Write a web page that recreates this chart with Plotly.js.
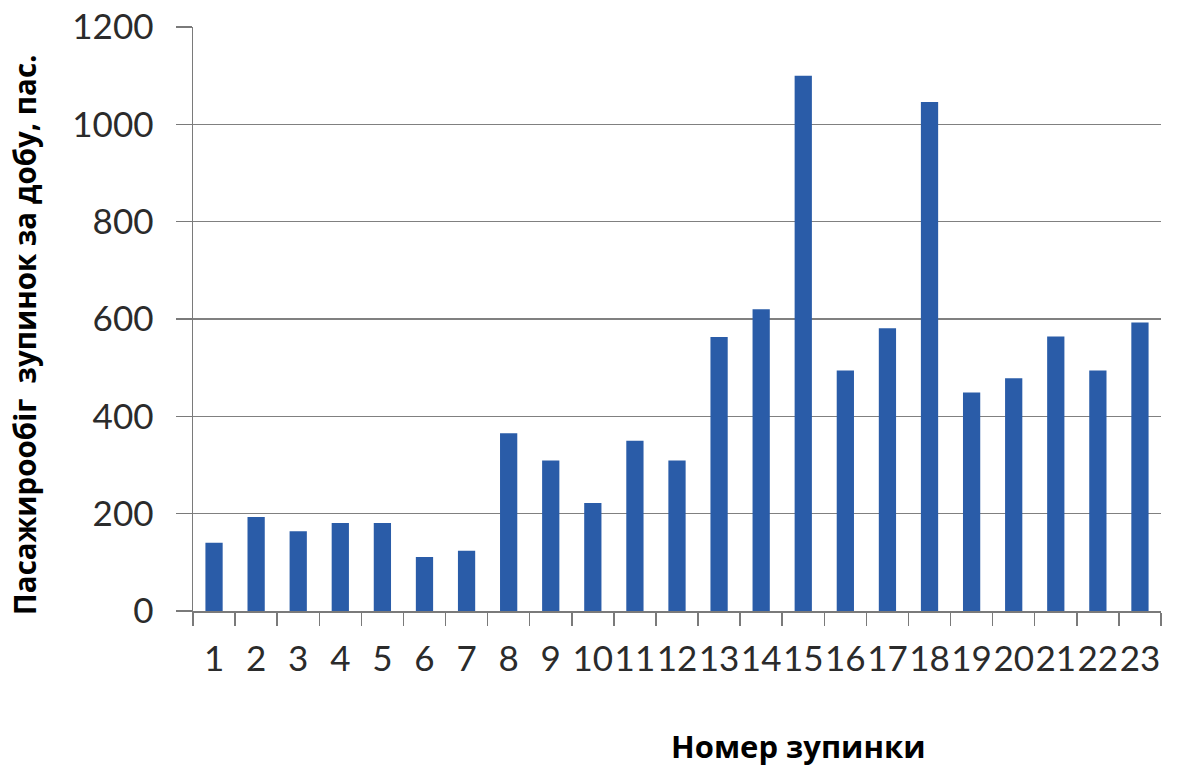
<!DOCTYPE html>
<html>
<head>
<meta charset="utf-8">
<script src="https://cdn.plot.ly/plotly-3.0.1.min.js"></script>
<style>
  html, body { margin: 0; padding: 0; background: #ffffff; }
  #chart { width: 1181px; height: 767px; }
</style>
</head>
<body>
<div id="chart"></div>
<script>
// Stop numbers along the route
const stops = ['1','2','3','4','5','6','7','8','9','10','11','12','13','14','15','16','17','18','19','20','21','22','23'];
// Daily passenger turnover at each stop, passengers
const passengers = [140, 193, 164, 181, 181, 111, 124, 365, 309, 222, 350, 309, 563, 620, 1100, 494, 581, 1046, 449, 478, 564, 494, 593];
// Value axis tick marks
const yTicks = [0, 200, 400, 600, 800, 1000, 1200];

const xTitle = 'Номер зупинки';
const yTitle = 'Пасажирообіг  зупинок за добу, пас.';

const labelFont = { family: 'Lato, "Open Sans", sans-serif', size: 35, color: '#2b2b2b' };
const xTitleFont = { family: '"Open Sans", Lato, sans-serif', size: 31, color: '#000000', weight: 'bold' };
const yTitleFont = { family: '"Open Sans", Lato, sans-serif', size: 29.5, color: '#000000', weight: 'bold' };

const trace = {
  type: 'bar',
  x: stops,
  y: passengers,
  marker: { color: '#2A5CA8', line: { width: 0 } },
  hoverinfo: 'x+y'
};

const layout = {
  width: 1181,
  height: 767,
  margin: { l: 193, r: 20, t: 27, b: 156 },
  paper_bgcolor: '#ffffff',
  plot_bgcolor: '#ffffff',
  showlegend: false,
  bargap: 0.59,
  font: labelFont,
  xaxis: {
    type: 'category',
    tickangle: 0,
    tickson: 'boundaries',
    ticks: 'outside',
    ticklen: 13,
    tickwidth: 1.5,
    tickcolor: '#7a7a7a',
    showline: true,
    linecolor: '#7a7a7a',
    linewidth: 1.5,
    showgrid: false,
    zeroline: false,
    ticklabelstandoff: 16,
    tickfont: labelFont,
    automargin: false
  },
  yaxis: {
    range: [0, 1200],
    tickvals: yTicks,
    ticktext: yTicks.map(String),
    ticks: 'outside',
    ticklen: 16,
    tickwidth: 1.5,
    tickcolor: '#7a7a7a',
    showline: true,
    linecolor: '#7a7a7a',
    linewidth: 1.5,
    showgrid: true,
    gridcolor: '#808080',
    gridwidth: 1.5,
    zeroline: false,
    ticklabelstandoff: 15,
    tickfont: labelFont,
    automargin: false
  },
  annotations: [
    {
      text: xTitle,
      xref: 'paper', yref: 'paper',
      x: 0.625, y: -0.231,
      xanchor: 'center', yanchor: 'middle',
      showarrow: false,
      font: xTitleFont
    },
    {
      text: yTitle,
      xref: 'paper', yref: 'paper',
      x: -0.1746, y: 0.474,
      xanchor: 'center', yanchor: 'middle',
      textangle: -90,
      showarrow: false,
      font: yTitleFont
    }
  ]
};

Plotly.newPlot('chart', [trace], layout, { displayModeBar: false, staticPlot: true });
</script>
</body>
</html>
